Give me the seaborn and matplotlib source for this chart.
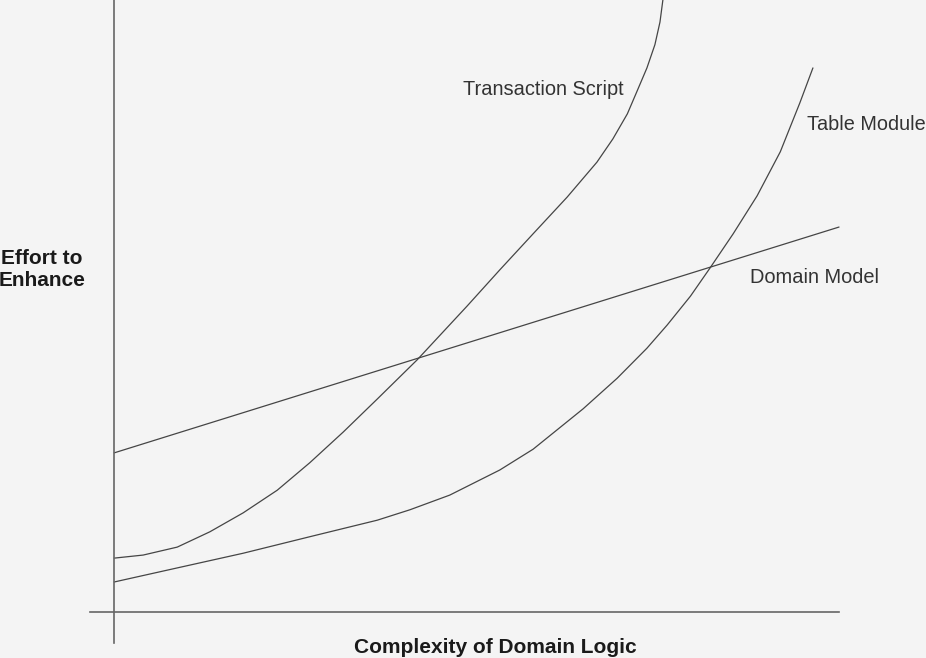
import numpy as np
import pandas as pd
import matplotlib
matplotlib.use('Agg')
import matplotlib.pyplot as plt
import seaborn as sns

# values (complexity -> effort, arbitrary units)
ts_x = [0.00, 0.40, 0.87, 1.32, 1.78, 2.25, 2.70, 3.16, 3.63, 4.18, 4.87, 5.32,
        5.78, 6.25, 6.66, 6.88, 7.08, 7.21, 7.35, 7.46, 7.53, 7.57]
ts_y = [0.88, 0.93, 1.06, 1.31, 1.62, 1.99, 2.44, 2.94, 3.48, 4.12, 5.00, 5.59,
        6.18, 6.78, 7.35, 7.73, 8.14, 8.50, 8.89, 9.27, 9.64, 10.0]

tm_x = [0.00, 0.87, 1.78, 2.70, 3.63, 4.08, 4.63, 5.32, 5.78, 6.47, 6.94, 7.35,
        7.63, 7.95, 8.22, 8.54, 8.87, 9.19, 9.46, 9.64]
tm_y = [0.49, 0.72, 0.96, 1.23, 1.50, 1.67, 1.91, 2.32, 2.66, 3.32, 3.82, 4.31,
        4.69, 5.16, 5.62, 6.18, 6.80, 7.52, 8.32, 8.89]

dm_x = [0.0, 10.0]
dm_y = [2.60, 6.29]

series_names = ['Transaction Script', 'Table Module', 'Domain Model']

df = pd.concat([
    pd.DataFrame({'x': ts_x, 'y': ts_y, 'series': series_names[0]}),
    pd.DataFrame({'x': tm_x, 'y': tm_y, 'series': series_names[1]}),
    pd.DataFrame({'x': dm_x, 'y': dm_y, 'series': series_names[2]}),
])

sns.set_theme(style='white')
plt.rcParams['font.family'] = ['Liberation Sans', 'DejaVu Sans']

bg = '#f4f4f4'
fig = plt.figure(figsize=(9.26, 6.58), dpi=100, facecolor=bg)
ax = fig.add_axes([0, 0, 1, 1])
ax.set_facecolor(bg)

sns.lineplot(data=df, x='x', y='y', hue='series', sort=False, estimator=None,
             palette=['#454545'] * 3, linewidth=0.9, legend=False, ax=ax,
             solid_joinstyle='round', solid_capstyle='round')

ax.set_xlim(-1.575, 11.2)
ax.set_ylim(-0.752, 10.0)
ax.set_xticks([])
ax.set_yticks([])

for s in ['top', 'right']:
    ax.spines[s].set_visible(False)
ax.spines['left'].set_position(('data', 0))
ax.spines['left'].set_bounds(-0.507, 10.0)
ax.spines['bottom'].set_position(('data', 0))
ax.spines['bottom'].set_bounds(-0.331, 10.0)
for s in ['left', 'bottom']:
    ax.spines[s].set_color('#666666')
    ax.spines[s].set_linewidth(1.2)

# curve names
ax.text(4.81, 8.53, 'Transaction Script', fontsize=14.4, color='#333333', ha='left', va='center')
ax.text(9.56, 7.96, 'Table Module', fontsize=14.3, color='#333333', ha='left', va='center')
ax.text(8.77, 5.47, 'Domain Model', fontsize=14.4, color='#333333', ha='left', va='center')

ax.set_xlabel('Complexity of Domain Logic', fontsize=15, fontweight='bold', color='#1a1a1a')
ax.xaxis.set_label_coords(0.5346, 0.0152)
ax.xaxis.label.set_va('center')

ax.set_ylabel('Effort to\nEnhance', fontsize=15, fontweight='bold', color='#1a1a1a',
              rotation=0, ha='center', va='center', multialignment='center', linespacing=1.2)
ax.yaxis.set_label_coords(0.0454, 0.5897)

fig.savefig('out.png', dpi=100, facecolor=bg)
